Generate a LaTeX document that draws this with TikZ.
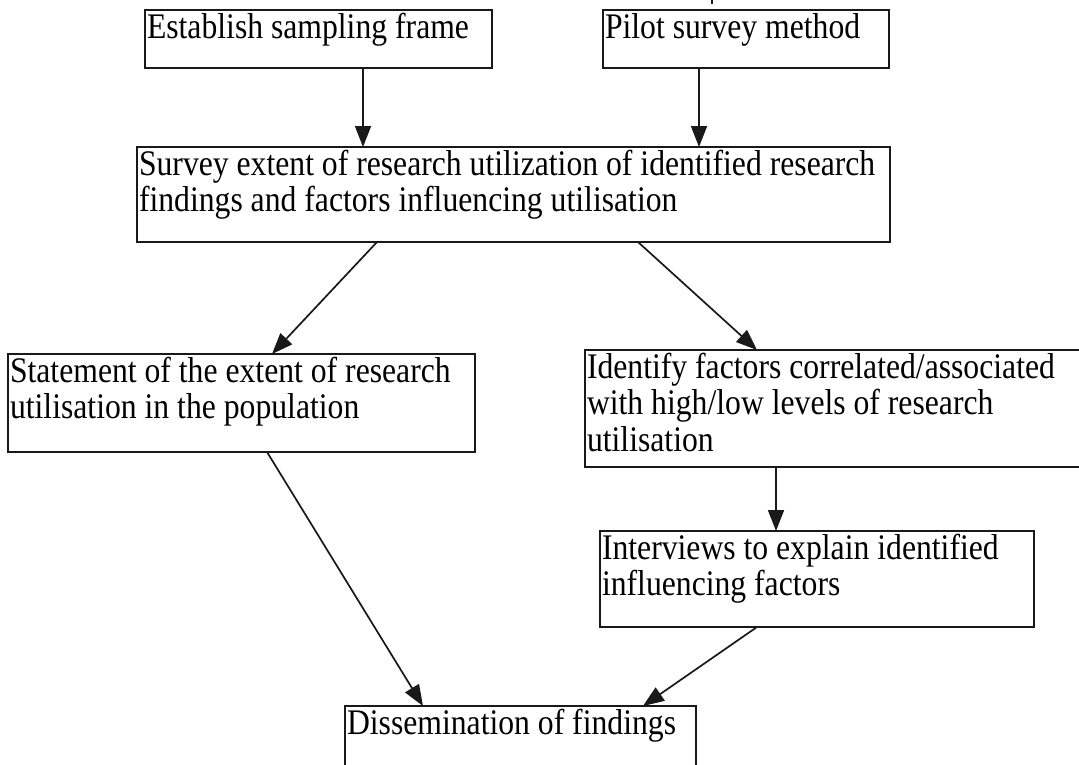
\documentclass[tikz,border=0pt]{standalone}
\usepackage{fontspec}
\setmainfont{Liberation Serif}[FakeStretch=0.88]
\usetikzlibrary{arrows.meta,calc}
\newcommand{\boxtxt}[3]{\parbox[t][#2][t]{#1}{\raggedright\rule{0pt}{28pt}#3}}
\begin{document}
\begin{tikzpicture}[x=1pt,y=-1pt,
  flowbox/.style={draw=black!90, line width=2.4pt, anchor=north west, inner xsep=2pt, inner ysep=0pt, outer sep=0pt,
    font=\fontsize{36}{36.5}\selectfont},
  arr/.style={draw=black!90, line width=1.7pt, -{Triangle[length=21pt,width=16pt]}}]
\useasboundingbox (0,0) rectangle (1079,764);
\fill[white] (0,0) rectangle (1079,764);

\node[flowbox] (b1) at (145,10) {\boxtxt{343pt}{58pt}{Establish sampling frame}};
\node[flowbox] (b2) at (603,10) {\boxtxt{282pt}{58pt}{Pilot survey method}};
\node[flowbox] (b3) at (137,147) {\boxtxt{749pt}{95pt}{Survey extent of research utilization of identified research\\findings and factors influencing utilisation}};
\node[flowbox] (b4) at (8,354) {\boxtxt{463pt}{98pt}{Statement of the extent of research\\utilisation in the population}};
\node[flowbox] (b5) at (585,350) {\boxtxt{496pt}{117pt}{Identify factors correlated/associated\\with high/low levels of research\\utilisation}};
\node[flowbox] (b6) at (600,531) {\boxtxt{430pt}{96pt}{Interviews to explain identified\\influencing factors}};
\node[flowbox] (b7) at (345,706) {\boxtxt{347pt}{70pt}{Dissemination of findings}};

\coordinate (xa) at (363,0);
\coordinate (xb) at (699,0);
\coordinate (xc) at (776,0);
\coordinate (stubA) at (712,-3);
\coordinate (stubB) at (712,4);

\draw[line width=1.7pt, black!90] (stubA) -- (stubB);
\draw[arr] (b1.south -| xa) -- (b3.north -| xa);
\draw[arr] (b2.south -| xb) -- (b3.north -| xb);
\draw[arr] ($(b3.south west)+(240,0)$) -- ($(b4.north west)+(264,0)$);
\draw[arr] ($(b3.south west)+(501,0)$) -- ($(b5.north west)+(172,0)$);
\draw[arr] (b5.south -| xc) -- (b6.north -| xc);
\draw[arr] ($(b4.south west)+(259,0)$) -- ($(b7.north west)+(78,0)$);
\draw[arr] ($(b6.south west)+(157,0)$) -- ($(b7.north west)+(298,0)$);
\end{tikzpicture}
\end{document}
